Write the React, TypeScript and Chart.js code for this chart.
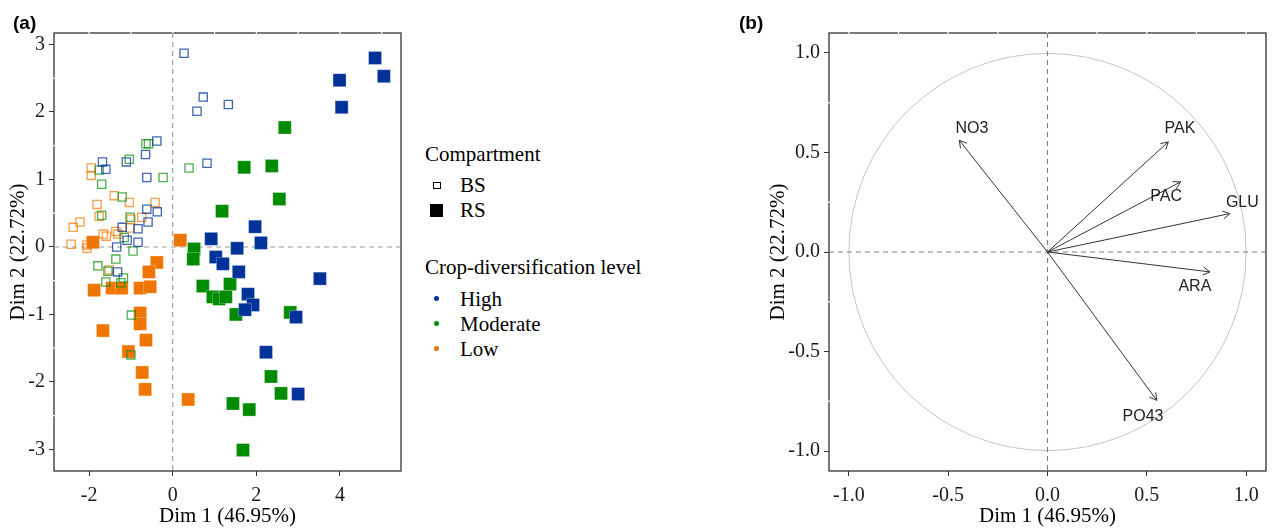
import React, { useEffect, useRef } from 'react';
import { Chart, registerables } from 'chart.js';

Chart.register(...registerables);

const SERIF = "'Liberation Serif', 'Times New Roman', Times, serif";
const SANS = "'Liberation Sans', Arial, Helvetica, sans-serif";

// ---------- Panel (a): individuals ----------
const LEVELS = ['High', 'Moderate', 'Low'];
const LEVEL_COLORS = ['#003399', '#008B00', '#EE7600'];
const LEVEL_COLORS_LIGHT = ['rgba(0,51,153,0.75)', 'rgba(0,139,0,0.7)', 'rgba(238,118,0,0.7)'];

const BS_HIGH_X = [0.27, 0.73, 0.58, 1.33, -0.38, -0.65, -1.68, -1.60, -1.11, -0.62, 0.82, -0.62, -0.37, -0.59, -0.83, -1.21, -1.09, -0.83, -1.34, -1.32];
const BS_HIGH_Y = [2.87, 2.22, 2.01, 2.11, 1.57, 1.37, 1.26, 1.15, 1.26, 1.03, 1.24, 0.56, 0.52, 0.37, 0.27, 0.29, 0.10, 0.07, 0.00, -0.37];

const BS_MOD_X = [-0.64, -0.58, -1.04, -1.76, -0.23, -1.70, -1.21, 0.39, -1.70, -1.02, -1.16, -0.95, -1.79, -1.36, -1.55, -1.60, -1.24, -1.18, -0.99, -1.00];
const BS_MOD_Y = [1.53, 1.53, 1.30, 1.14, 1.03, 0.93, 0.74, 1.17, 0.47, 0.44, 0.14, -0.06, -0.28, -0.18, -0.36, -0.52, -0.53, -0.46, -1.01, -1.60];

const BS_LOW_X = [-1.95, -1.95, -1.40, -1.81, -1.04, -0.42, -1.76, -2.22, -2.38, -1.66, -1.59, -1.36, -1.31, -1.00, -0.74, -1.02, -2.43, -2.05, -2.05, -1.52];
const BS_LOW_Y = [1.17, 1.06, 0.76, 0.63, 0.66, 0.66, 0.45, 0.37, 0.29, 0.19, 0.16, 0.23, 0.19, 0.41, 0.44, 0.28, 0.04, -0.02, 0.03, -0.34];

const RS_HIGH_X = [4.84, 5.05, 3.99, 4.04, 1.97, 0.92, 2.11, 1.54, 1.03, 1.20, 1.58, 3.52, 1.80, 1.92, 1.73, 2.95, 2.23, 3.00];
const RS_HIGH_Y = [2.80, 2.53, 2.47, 2.07, 0.30, 0.12, 0.06, -0.02, -0.15, -0.25, -0.37, -0.47, -0.70, -0.86, -0.93, -1.04, -1.56, -2.18];

const RS_MOD_X = [2.68, 1.71, 2.37, 2.55, 1.18, 0.51, 0.49, 0.72, 1.37, 0.96, 1.11, 1.27, 1.51, 2.81, 2.35, 2.59, 1.44, 1.83, 1.68];
const RS_MOD_Y = [1.77, 1.18, 1.20, 0.71, 0.53, -0.03, -0.18, -0.58, -0.55, -0.74, -0.77, -0.74, -1.00, -0.97, -1.92, -2.17, -2.32, -2.41, -3.01];

const RS_LOW_X = [-1.91, 0.18, -0.38, -0.57, -1.88, -1.45, -1.22, -0.78, -0.54, -0.78, -1.67, -0.78, -0.64, -1.06, -0.73, -0.66, 0.37];
const RS_LOW_Y = [0.07, 0.10, -0.23, -0.37, -0.64, -0.61, -0.61, -0.61, -0.59, -0.98, -1.24, -1.14, -1.38, -1.55, -1.86, -2.11, -2.26];

const A_X_TICKS = [-2, 0, 2, 4];
const A_Y_TICKS = [-3, -2, -1, 0, 1, 2, 3];
const A_X_GRID = [-2, -1, 0, 1, 2, 3, 4, 5];
const A_Y_MINOR = [-2.5, -1.5, -0.5, 0.5, 1.5, 2.5];

// ---------- Panel (b): variables ----------
const VAR_NAMES = ['NO3', 'PAK', 'PAC', 'GLU', 'ARA', 'PO43'];
const VAR_X = [-0.444, 0.608, 0.670, 0.918, 0.818, 0.550];
const VAR_Y = [0.561, 0.553, 0.352, 0.193, -0.100, -0.745];
const LABEL_X = [-0.380, 0.667, 0.597, 0.981, 0.742, 0.481];
const LABEL_Y = [0.621, 0.618, 0.279, 0.249, -0.176, -0.828];

const B_TICKS = [-1.0, -0.5, 0.0, 0.5, 1.0];
const B_GRID = [-1, -0.75, -0.5, -0.25, 0, 0.25, 0.5, 0.75, 1];
const B_Y_MINOR = [-0.75, -0.25, 0.25, 0.75];

const toPts = (xs: number[], ys: number[]) => xs.map((x, i) => ({ x, y: ys[i] }));

function makeFramePlugin(xGaps: number[], yGaps: number[], dashColor: string, circle: boolean) {
  return {
    id: 'pcaFrame',
    beforeDatasetsDraw(chart: any) {
      const { ctx, chartArea: a, scales } = chart;
      const x = scales.x, y = scales.y;
      ctx.save();
      if (circle) {
        const cx = x.getPixelForValue(0), cy = y.getPixelForValue(0);
        const r = x.getPixelForValue(1) - cx;
        ctx.beginPath();
        ctx.arc(cx, cy, r, 0, Math.PI * 2);
        ctx.strokeStyle = '#c4c4c4';
        ctx.lineWidth = 1;
        ctx.stroke();
      }
      ctx.strokeStyle = '#333';
      ctx.lineWidth = 1.3;
      ctx.strokeRect(a.left, a.top, a.right - a.left, a.bottom - a.top);
      ctx.strokeStyle = '#fff';
      ctx.lineWidth = 1.2;
      for (const v of xGaps) {
        const px = x.getPixelForValue(v);
        ctx.beginPath(); ctx.moveTo(px, a.top - 1.2); ctx.lineTo(px, a.top + 1.2); ctx.stroke();
      }
      for (const v of yGaps) {
        const py = y.getPixelForValue(v);
        ctx.beginPath(); ctx.moveTo(a.left - 1.2, py); ctx.lineTo(a.left + 1.2, py); ctx.stroke();
      }
      ctx.setLineDash([5, 4]);
      ctx.strokeStyle = dashColor;
      ctx.lineWidth = 1.1;
      const zx = x.getPixelForValue(0), zy = y.getPixelForValue(0);
      ctx.beginPath();
      ctx.moveTo(zx, a.top); ctx.lineTo(zx, a.bottom);
      ctx.moveTo(a.left, zy); ctx.lineTo(a.right, zy);
      ctx.stroke();
      ctx.restore();
    },
  };
}

const arrowPlugin = {
  id: 'arrowHeads',
  afterDatasetsDraw(chart: any) {
    const { ctx, scales } = chart;
    const x = scales.x, y = scales.y;
    const ox = x.getPixelForValue(0), oy = y.getPixelForValue(0);
    ctx.save();
    ctx.strokeStyle = '#333';
    ctx.lineWidth = 1;
    VAR_NAMES.forEach((name, i) => {
      const tx = x.getPixelForValue(VAR_X[i]);
      const ty = y.getPixelForValue(VAR_Y[i]);
      const ang = Math.atan2(ty - oy, tx - ox);
      const L = 8, A = Math.PI / 6;
      ctx.beginPath();
      ctx.moveTo(tx - L * Math.cos(ang - A), ty - L * Math.sin(ang - A));
      ctx.lineTo(tx, ty);
      ctx.lineTo(tx - L * Math.cos(ang + A), ty - L * Math.sin(ang + A));
      ctx.stroke();
      ctx.font = `16px ${SANS}`;
      ctx.fillStyle = '#222';
      ctx.textAlign = 'center';
      ctx.textBaseline = 'middle';
      ctx.fillText(name, x.getPixelForValue(LABEL_X[i]), y.getPixelForValue(LABEL_Y[i]));
    });
    ctx.restore();
  },
};

function axisCommon(ticks: number[], fmt: (v: number) => string, isX: boolean, size: number, pad: number, title: string, titlePad: any) {
  return {
    type: 'linear',
    afterBuildTicks: (s: any) => { s.ticks = ticks.map((v) => ({ value: v })); },
    afterFit: (s: any) => { if (isX) s.height = 58; else s.width = size; },
    grid: { drawOnChartArea: false, drawTicks: true, tickLength: 5, color: '#333', lineWidth: 1 },
    border: { display: false },
    ticks: {
      font: { family: SERIF, size: 20 },
      color: '#1a1a1a',
      padding: pad,
      maxRotation: 0,
      autoSkip: false,
      callback: (v: any) => fmt(Number(v)),
    },
    title: { display: true, text: title, font: { family: SERIF, size: 21 }, color: '#000', padding: titlePad },
  };
}

export default function App() {
  const refA = useRef<HTMLCanvasElement>(null);
  const refB = useRef<HTMLCanvasElement>(null);

  useEffect(() => {
    const bsSets = [
      toPts(BS_HIGH_X, BS_HIGH_Y),
      toPts(BS_MOD_X, BS_MOD_Y),
      toPts(BS_LOW_X, BS_LOW_Y),
    ].map((data, i) => ({
      label: `BS ${LEVELS[i]}`,
      data,
      pointStyle: 'rect',
      pointRadius: 5.8,
      pointBorderWidth: 1.3,
      pointBorderColor: LEVEL_COLORS_LIGHT[i],
      pointBackgroundColor: 'rgba(0,0,0,0)',
    }));
    const rsSets = [
      toPts(RS_HIGH_X, RS_HIGH_Y),
      toPts(RS_MOD_X, RS_MOD_Y),
      toPts(RS_LOW_X, RS_LOW_Y),
    ].map((data, i) => ({
      label: `RS ${LEVELS[i]}`,
      data,
      pointStyle: 'rect',
      pointRadius: 9.2,
      pointBorderWidth: 0.8,
      pointBorderColor: 'rgba(255,255,255,0.35)',
      pointBackgroundColor: LEVEL_COLORS[i],
    }));

    const chartA = new Chart(refA.current as HTMLCanvasElement, {
      type: 'scatter',
      data: { datasets: [...bsSets, ...rsSets] as any },
      options: {
        responsive: false,
        animation: false,
        events: [],
        layout: { padding: { left: 0, top: 33, right: 14, bottom: 0 } },
        plugins: { legend: { display: false }, tooltip: { enabled: false } },
        scales: {
          x: { ...axisCommon(A_X_TICKS, (v) => String(v), true, 0, 8, 'Dim 1 (46.95%)', { top: 0, bottom: 0 }), min: -2.84, max: 5.46 } as any,
          y: { ...axisCommon(A_Y_TICKS, (v) => String(v), false, 54, 4, 'Dim 2 (22.72%)', { top: 5.4, bottom: 0 }), min: -3.32, max: 3.17 } as any,
        },
      },
      plugins: [makeFramePlugin(A_X_GRID, A_Y_MINOR, '#9a9a9a', false)],
    });

    const arrowSets = VAR_NAMES.map((name, i) => ({
      label: name,
      data: [{ x: 0, y: 0 }, { x: VAR_X[i], y: VAR_Y[i] }],
      showLine: true,
      borderColor: '#333',
      borderWidth: 1,
      pointRadius: 0,
    }));

    const chartB = new Chart(refB.current as HTMLCanvasElement, {
      type: 'scatter',
      data: { datasets: arrowSets as any },
      options: {
        responsive: false,
        animation: false,
        events: [],
        layout: { padding: { left: 0, top: 33, right: 6, bottom: 0 } },
        plugins: { legend: { display: false }, tooltip: { enabled: false } },
        scales: {
          x: { ...axisCommon(B_TICKS, (v) => v.toFixed(1), true, 0, 8, 'Dim 1 (46.95%)', { top: 0, bottom: 0 }), min: -1.1, max: 1.1 } as any,
          y: { ...axisCommon(B_TICKS, (v) => v.toFixed(1), false, 81, 4, 'Dim 2 (22.72%)', { top: 17.7, bottom: 0 }), min: -1.1, max: 1.1 } as any,
        },
      },
      plugins: [makeFramePlugin(B_GRID, B_Y_MINOR, '#808080', true), arrowPlugin],
    });

    return () => {
      chartA.destroy();
      chartB.destroy();
    };
  }, []);

  const legendText = (text: string, left: number, baseline: number) => (
    <div
      key={text}
      style={{
        position: 'absolute',
        left,
        top: baseline - 17.6,
        font: `21px/21px ${SERIF}`,
        color: '#000',
        whiteSpace: 'nowrap',
      }}
    >
      {text}
    </div>
  );

  return (
    <div style={{ position: 'absolute', left: 0, top: 0, width: 1272, height: 529, background: '#fff', overflow: 'hidden' }}>
      <canvas ref={refA} width={415} height={529} style={{ position: 'absolute', left: 0, top: 0, width: 415, height: 529 }} />
      <canvas ref={refB} width={524} height={529} style={{ position: 'absolute', left: 748, top: 0, width: 524, height: 529 }} />

      <div style={{ position: 'absolute', left: 13, top: 12.9, font: `bold 19px/19px ${SANS}`, color: '#000' }}>(a)</div>
      <div style={{ position: 'absolute', left: 739, top: 12.9, font: `bold 19px/19px ${SANS}`, color: '#000' }}>(b)</div>

      {legendText('Compartment', 425, 161.5)}
      <div style={{ position: 'absolute', left: 433.2, top: 181.8, width: 5.4, height: 5.4, border: '1.3px solid #000' }} />
      {legendText('BS', 460, 193)}
      <div style={{ position: 'absolute', left: 430.2, top: 203.8, width: 13, height: 13, background: '#000' }} />
      {legendText('RS', 460, 218)}

      {legendText('Crop-diversification level', 425, 274.5)}
      {LEVELS.map((lv, i) => (
        <React.Fragment key={lv}>
          <div
            style={{
              position: 'absolute',
              left: 434.4,
              top: 296 + i * 25,
              width: 4.6,
              height: 4.6,
              borderRadius: '50%',
              background: LEVEL_COLORS[i],
            }}
          />
          {legendText(lv, 460, 307 + i * 25)}
        </React.Fragment>
      ))}
    </div>
  );
}
